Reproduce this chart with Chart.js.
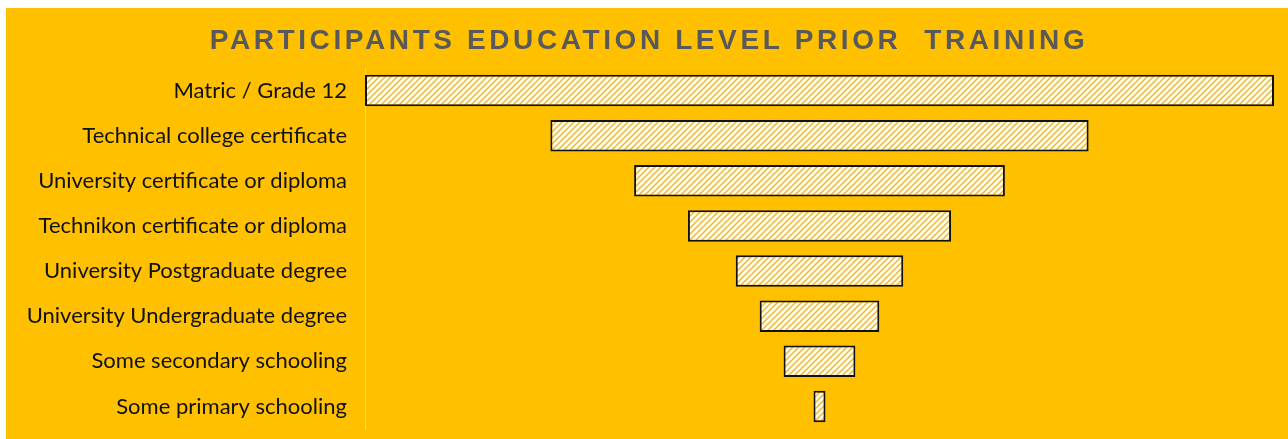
<!DOCTYPE html>
<html>
<head>
<meta charset="utf-8">
<script src="https://cdn.jsdelivr.net/npm/chart.js@4.4.1/dist/chart.umd.min.js"></script>
<style>
  html, body { margin: 0; padding: 0; background: #ffffff; }
  #wrap { width: 1288px; height: 439px; }
</style>
</head>
<body>
<div id="wrap"><canvas id="funnel"></canvas></div>
<script>
const titleText = 'PARTICIPANTS EDUCATION LEVEL PRIOR  TRAINING';
const levels = [
  'Matric / Grade 12',
  'Technical college certificate',
  'University certificate or diploma',
  'Technikon certificate or diploma',
  'University Postgraduate degree',
  'University Undergraduate degree',
  'Some secondary schooling',
  'Some primary schooling'
];
const participants = [76, 45, 31, 22, 14, 10, 6, 1];

const GOLD = '#FFC000';

// white background with thin diagonal gold hatching
function hatchPattern() {
  const size = 6;
  const c = document.createElement('canvas');
  c.width = size; c.height = size;
  const g = c.getContext('2d');
  g.fillStyle = '#ffffff';
  g.fillRect(0, 0, size, size);
  g.strokeStyle = '#F4B820';
  g.lineWidth = 1.5;
  g.beginPath();
  g.moveTo(0, size); g.lineTo(size, 0);
  g.moveTo(-size / 2, size / 2); g.lineTo(size / 2, -size / 2);
  g.moveTo(size / 2, size * 1.5); g.lineTo(size * 1.5, size / 2);
  g.stroke();
  const ctx = document.getElementById('funnel').getContext('2d');
  return ctx.createPattern(c, 'repeat');
}

// each bar is centred on zero so the stack reads as a funnel
const funnelData = participants.map(v => [-v / 2, v / 2]);
const half = Math.max(...participants) / 2;

const panel = {
  id: 'panel',
  beforeDraw(chart) {
    const { ctx, width, height } = chart;
    ctx.save();
    ctx.fillStyle = GOLD;
    ctx.fillRect(6, 8, width - 6, height - 8);
    ctx.restore();
  },
  afterDraw(chart) {
    const ctx = chart.ctx;
    ctx.save();
    ctx.font = 'bold 28px "Liberation Sans", Arial, sans-serif';
    ctx.letterSpacing = '3.6px';
    ctx.fillStyle = '#595959';
    ctx.textAlign = 'center';
    ctx.textBaseline = 'alphabetic';
    ctx.fillText(titleText, 649, 49);
    ctx.restore();
  }
};

new Chart(document.getElementById('funnel'), {
  type: 'bar',
  data: {
    labels: levels,
    datasets: [{
      label: 'Participants',
      data: funnelData,
      backgroundColor: hatchPattern(),
      borderColor: '#111111',
      borderWidth: 2,
      borderSkipped: false,
      categoryPercentage: 1,
      barPercentage: 0.7
    }]
  },
  options: {
    indexAxis: 'y',
    responsive: true,
    maintainAspectRatio: false,
    animation: false,
    layout: { padding: { left: 6, right: 14, top: 68, bottom: 10 } },
    plugins: {
      legend: { display: false },
      tooltip: { enabled: false }
    },
    scales: {
      x: {
        display: false,
        min: -half,
        max: half
      },
      y: {
        afterFit(scale) {
          scale.width = 359;
          // labels sit inside their rows, no extra room needed above/below
          scale.paddingTop = 0;
          scale.paddingBottom = 0;
        },
        grid: { display: false, drawTicks: false },
        border: { display: true, color: 'rgba(255,235,160,0.7)', width: 1 },
        ticks: {
          color: '#111111',
          padding: 18,
          font: { family: 'Lato, "Open Sans", sans-serif', size: 22 }
        }
      }
    }
  },
  plugins: [panel]
});
</script>
</body>
</html>
